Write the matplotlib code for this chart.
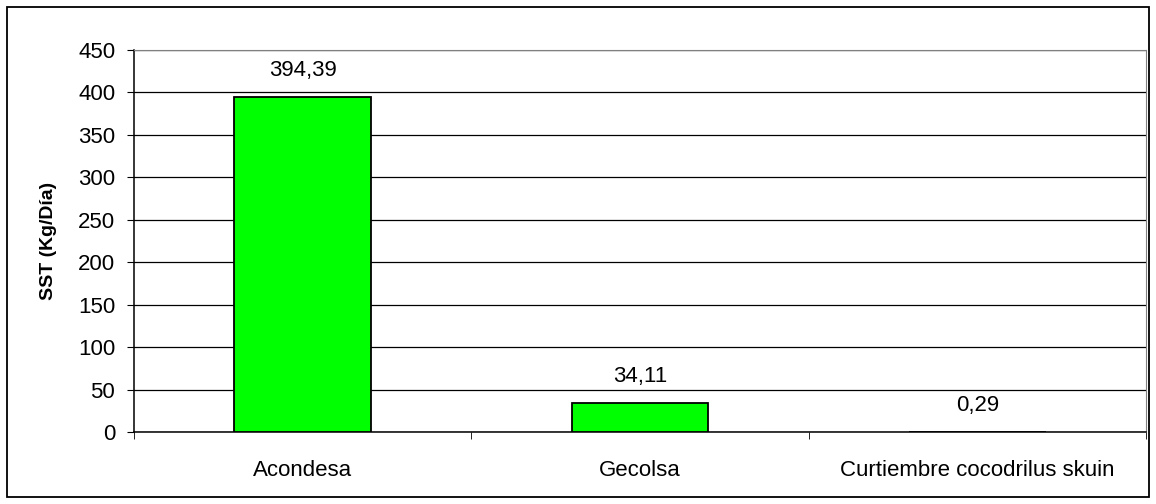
import matplotlib.pyplot as plt
from matplotlib.patches import Rectangle

categories = ["Acondesa", "Gecolsa", "Curtiembre cocodrilus skuin"]
values = [394.39, 34.11, 0.29]
value_labels = ["394,39", "34,11", "0,29"]

plt.rcParams['font.family'] = ['Liberation Sans', 'DejaVu Sans']

fig = plt.figure(figsize=(11.56, 5.04), dpi=100)
ax = fig.add_axes([134 / 1156, 1 - 432 / 504, (1146 - 134) / 1156, (432 - 50) / 504])

x = range(len(categories))
ax.bar(x, values, width=0.406, color="#00ff00", edgecolor="black", linewidth=1.3, zorder=3)
for xi, v, lbl in zip(x, values, value_labels):
    ax.annotate(lbl, (xi, v), xytext=(0, 19), textcoords="offset points",
                ha="center", va="center", fontsize=16)

ax.set_xlim(-0.5, 2.5)
ax.set_ylim(0, 450)
ax.set_yticks(range(0, 451, 50))
ax.yaxis.grid(True, color="black", linewidth=0.9, zorder=0)
ax.set_axisbelow(True)

ax.set_xticks(list(x))
ax.set_xticklabels(categories, fontsize=16)
ax.set_xticks([-0.5, 0.5, 1.5, 2.5], minor=True)
ax.tick_params(axis="x", which="major", length=0, pad=20)
ax.tick_params(axis="x", which="minor", length=5, direction="out", color="black")
ax.tick_params(axis="y", length=5, pad=8.5, labelsize=16)

ax.set_ylabel("SST (Kg/Día)", fontsize=14, fontweight="bold", labelpad=15)

for side in ("top", "right"):
    ax.spines[side].set_color("#808080")
for side in ("left", "bottom"):
    ax.spines[side].set_color("black")
    ax.spines[side].set_linewidth(1.1)

fig.patches.append(Rectangle((7 / 1156, 7 / 504), 1142 / 1156, 490 / 504,
                             transform=fig.transFigure, fill=False,
                             edgecolor="black", linewidth=1.3))

fig.savefig("out.png", dpi=100)
